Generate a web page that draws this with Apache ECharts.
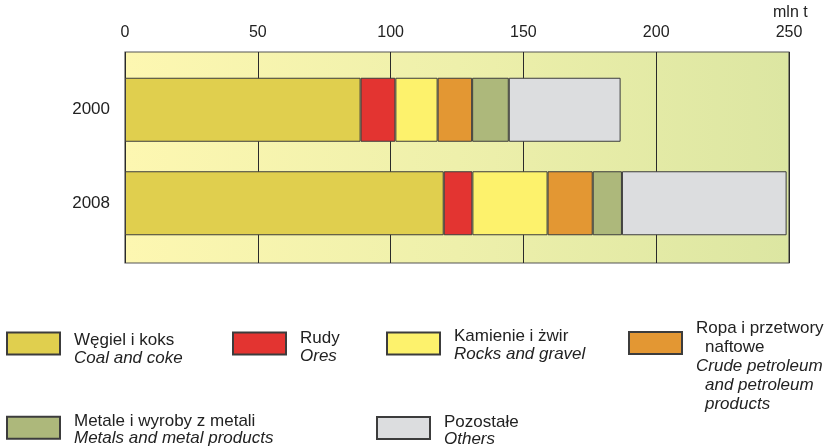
<!DOCTYPE html>
<html>
<head>
<meta charset="utf-8">
<script src="https://cdn.jsdelivr.net/npm/echarts@6/dist/echarts.min.js"></script>
<style>html,body{margin:0;padding:0;background:#fff}#c{width:832px;height:448px}</style>
</head>
<body>
<div id="c"></div>
<script>
const years = ['2000', '2008'];
const xTicks = [0, 50, 100, 150, 200, 250];
const unitLabel = 'mln t';

const coal   = [88.7, 120.0];
const ores   = [13.1, 10.8];
const rocks  = [15.9, 28.3];
const oil    = [13.0, 17.0];
const metals = [13.8, 11.0];
const others = [42.1, 62.0];

const namesPl = ['Węgiel i koks', 'Rudy', 'Kamienie i żwir', 'Ropa i przetwory naftowe', 'Metale i wyroby z metali', 'Pozostałe'];
const namesEn = ['Coal and coke', 'Ores', 'Rocks and gravel', 'Crude petroleum and petroleum products', 'Metals and metal products', 'Others'];
const colors = ['#e0cf4e', '#e33431', '#fdf26c', '#e39733', '#adb87b', '#dcdddf'];
const values = [coal, ores, rocks, oil, metals, others];

const FONT = 'Liberation Sans, Arial, Helvetica, sans-serif';

const series = values.map((v, i) => ({
  name: namesPl[i],
  type: 'bar',
  stack: 'total',
  xAxisIndex: 1,
  yAxisIndex: 1,
  barWidth: 64,
  data: v,
  itemStyle: { color: colors[i], borderColor: '#3c3c3c', borderWidth: 1 }
}));

// legend placements: [left, top, padTop, lineHeight]
const legendPos = [
  [6, 331.5, 11, 18],
  [232, 330, 8, 18],
  [386, 327.5, 3, 18],
  [628, 320, 47, 19],
  [6, 412.5, 4, 17.5],
  [376, 413.5, 5, 17]
];

const legends = legendPos.map((p, i) => {
  const lh = p[3];
  let fmt;
  if (i === 3) {
    fmt = '{a|Ropa i przetwory}\n{ai|naftowe}\n{b|Crude petroleum}\n{bi|and petroleum}\n{bi|products}';
  } else {
    fmt = '{a|' + namesPl[i] + '}\n{b|' + namesEn[i] + '}';
  }
  return {
    data: [namesPl[i]],
    left: p[0],
    top: p[1],
    padding: 0,
    icon: 'rect',
    itemWidth: 53,
    itemHeight: 22,
    selectedMode: false,
    formatter: () => fmt,
    textStyle: {
      fontFamily: FONT, fontSize: 17, color: '#222',
      padding: [p[2], 0, 0, 9],
      rich: {
        a: { fontFamily: FONT, fontSize: 17, color: '#222', lineHeight: lh },
        ai: { fontFamily: FONT, fontSize: 17, color: '#222', lineHeight: lh, padding: [0, 0, 0, 9] },
        b: { fontFamily: FONT, fontSize: 17, color: '#222', fontStyle: 'italic', lineHeight: lh },
        bi: { fontFamily: FONT, fontSize: 17, color: '#222', fontStyle: 'italic', lineHeight: lh, padding: [0, 0, 0, 9] }
      }
    }
  };
});

const chart = echarts.init(document.getElementById('c'), null, { renderer: 'canvas' });
chart.setOption({
  animation: false,
  title: {
    text: unitLabel, left: 773, top: 5, padding: 0,
    textStyle: { fontFamily: FONT, fontSize: 16, fontWeight: 'normal', color: '#222' }
  },
  legend: legends,
  grid: [
    {
      left: 125, right: 43, top: 52, bottom: 185,
      show: true,
      backgroundColor: new echarts.graphic.LinearGradient(0, 0, 1, 0, [
        { offset: 0, color: '#fdf7b1' },
        { offset: 0.5, color: '#eef0ab' },
        { offset: 1, color: '#dce6a2' }
      ]),
      borderColor: '#555', borderWidth: 1.2
    },
    { left: 125, right: 43, top: 63, bottom: 198 }
  ],
  xAxis: [
    {
      gridIndex: 0, type: 'value', position: 'top',
      min: xTicks[0], max: xTicks[xTicks.length - 1], interval: 50,
      axisLine: { show: false }, axisTick: { show: false },
      axisLabel: { fontFamily: FONT, fontSize: 16, color: '#222', margin: 11 },
      splitLine: { show: true, lineStyle: { color: '#2a2a2a', width: 1 } }
    },
    {
      gridIndex: 1, type: 'value', show: false,
      min: xTicks[0], max: xTicks[xTicks.length - 1], interval: 50,
      splitLine: { show: false }
    }
  ],
  yAxis: [
    { gridIndex: 0, type: 'value', show: false, min: 0, max: 1, splitLine: { show: false } },
    {
      gridIndex: 1, type: 'category', data: years, inverse: true,
      axisLine: { show: false }, axisTick: { show: false },
      axisLabel: { fontFamily: FONT, fontSize: 17, color: '#222', margin: 15, padding: [4, 0, 0, 0] }
    }
  ],
  series: series
});
</script>
</body>
</html>
